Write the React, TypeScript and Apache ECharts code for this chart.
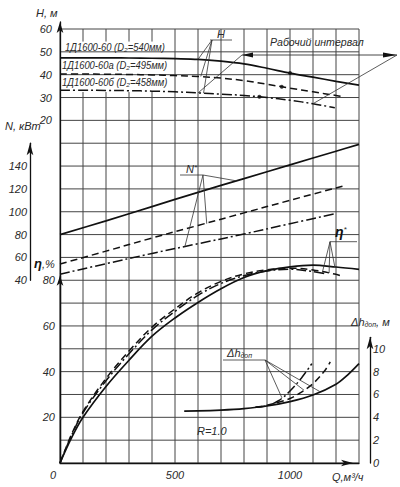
import React, { useEffect, useRef } from 'react';
import * as echarts from 'echarts';

const FONT = "'Liberation Sans', Arial, 'DejaVu Sans', sans-serif";
const INK = '#111';
const TXT = '#2a2a2a';
const GRIDC = '#444';

// ---- data (Q, value) ----
const H1 = [[0, 47.4], [100, 47.4], [200, 47.4], [300, 47.3], [400, 47.2], [500, 47.0], [600, 46.7], [700, 45.9], [800, 44.7], [900, 42.8], [1000, 40.7], [1100, 38.9], [1200, 37.1], [1300, 35.4]];
const H2 = [[0, 40.3], [100, 40.3], [200, 40.2], [300, 40.1], [400, 39.9], [500, 39.6], [600, 39.2], [700, 38.5], [800, 37.4], [900, 35.8], [1000, 34.1], [1100, 32.5], [1200, 30.9], [1230, 30.4]];
const H3 = [[0, 33.2], [100, 33.2], [200, 33.1], [300, 33.0], [400, 32.8], [500, 32.5], [600, 32.0], [700, 31.5], [800, 30.9], [900, 30.0], [1000, 28.8], [1100, 27.3], [1195, 25.5]];
const H_DOTS = [[1000, 40.7], [964, 34.7], [867, 30.3]];

const N1 = [[0, 80], [200, 92], [400, 104.5], [600, 117], [800, 129], [1000, 141], [1200, 153], [1300, 159]];
const N2 = [[0, 54.2], [200, 65.5], [400, 77], [600, 88], [800, 99], [1000, 110], [1230, 122.5]];
const N3 = [[0, 45.3], [200, 54.5], [400, 63.5], [600, 72], [800, 80.5], [1000, 89.5], [1190, 98]];

const ETA1 = [[0, 0], [50, 11], [100, 20], [200, 33.5], [300, 45], [400, 55.5], [500, 63.5], [600, 70.3], [700, 76.3], [800, 81.2], [900, 84.2], [1000, 85.9], [1100, 86.6], [1200, 85.8], [1300, 84.8]];
const ETA2 = [[0, 0], [50, 12.5], [100, 22.5], [200, 37], [300, 49], [400, 59.5], [500, 67.5], [600, 74.5], [700, 79.5], [800, 82.8], [900, 84.6], [1000, 85.3], [1100, 84.5], [1200, 82.6], [1220, 82]];
const ETA3 = [[0, 0], [50, 12], [100, 22], [200, 36], [300, 47.8], [400, 58.3], [500, 66.4], [600, 73.4], [700, 78.6], [800, 82], [900, 84.1], [1000, 84.8], [1100, 83.8], [1160, 82.8]];

const DH1 = [[540, 4.55], [600, 4.56], [700, 4.63], [800, 4.76], [900, 4.99], [1000, 5.37], [1100, 5.95], [1200, 6.9], [1250, 7.7], [1300, 8.7]];
const DH2 = [[850, 4.88], [900, 5.05], [950, 5.32], [1000, 5.65], [1050, 6.2], [1100, 6.95], [1150, 8.05], [1175, 8.85]];
const DH3 = [[850, 4.88], [900, 5.02], [950, 5.45], [1000, 6.3], [1050, 7.45], [1095, 8.7]];

// tick labels / grid lines
const Q_LABELS = [0, 500, 1000];
const Q_GRID = [0, 100, 200, 300, 400, 500, 600, 700, 800, 900, 1000, 1100, 1200, 1300];
const H_GRID = [60, 50, 40, 30, 20, 10, 0, -10, -20, -30, -40, -50, -60, -70, -80, -90, -100, -110, -120, -130];
const H_LABELS = [20, 30, 40, 50, 60];
const N_LABELS = [40, 60, 80, 100, 120, 140];
const ETA_LABELS = [20, 40, 60, 80];
const DH_LABELS = [0, 2, 4, 6, 8, 10];
// vertical grid lines are broken behind the curve-label block (Q, H range)
const LABEL_GAP_Q = [100, 200, 300, 400];
const LABEL_GAP_H = [54.5, 32.4];

// annotation anchors on curves (Q, value)
const H_LEADER_ENDS = [[600, 46.7], [612, 39.2], [624, 31.9]];
const WORK_ENDS = [[600, 32.0], [1100, 27.3]];
const N_LEADER_ENDS = [[768, 127], [638, 89.5], [543, 69.5]];
const ETA_LEADER_ENDS = [[1140, 83.2], [1170, 83.2], [1195, 85.8]];
const DH_LEADER_ENDS = [[965, 5.7], [1061, 6.37], [1130, 6.25]];

const CURVE_LABELS = ['1Д1600-60 (D₂=540мм)', '1Д1600-60а (D₂=495мм)', '1Д1600-60б (D₂=458мм)'];

const labelStyle = { color: TXT, fontSize: 11, fontStyle: 'italic', fontFamily: FONT };

function lineSeries(name: string, data: number[][], yAxisIndex: number, kind: string) {
  return {
    type: 'line', name, data, xAxisIndex: 0, yAxisIndex,
    symbol: 'none', showSymbol: false, smooth: 0.35, silent: true, z: 10,
    lineStyle: {
      color: INK,
      width: kind === 'solid' ? 1.7 : 1.5,
      type: kind === 'solid' ? 'solid' : kind === 'dash' ? [7, 4] : [10, 3, 2, 3],
    },
  };
}

function decoX(gridIndex: number) {
  return { gridIndex, type: 'value', min: 0, max: 1, show: false };
}

export default function App() {
  const ref = useRef<HTMLDivElement>(null);
  useEffect(() => {
    document.body.style.margin = '0';
    const chart = echarts.init(ref.current!, null, { renderer: 'svg' });
    const axisLineArrow = (size: number[]) => ({
      show: true, onZero: false, symbol: ['none', 'arrow'], symbolSize: size,
      lineStyle: { color: INK, width: 1.3 },
    });
    const gridBase = { show: false, backgroundColor: 'transparent', borderWidth: 0 };
    const option: any = {
      animation: false,
      grid: [
        { ...gridBase, left: 60, right: 41, top: 29, bottom: 24 },
        { ...gridBase, left: 60, top: 22, width: 10, height: 7 },
        { ...gridBase, left: 30, top: 143.21, width: 10, height: 137.05 },
        { ...gridBase, left: 60, top: 275.69, width: 10, height: 187.31 },
        { ...gridBase, left: 360, top: 337.37, width: 10, height: 125.63 },
      ],
      xAxis: [
        {
          gridIndex: 0, type: 'value', min: 0, max: 1300, interval: 100, z: 16,
          axisLine: { show: true, onZero: false, symbol: ['none', 'arrow'], symbolSize: [5, 12], symbolOffset: [0, -6], lineStyle: { color: INK, width: 1.3 } },
          axisTick: { show: false },
          splitLine: { show: false },
          axisLabel: {
            ...labelStyle, margin: 6,
            formatter: (v: number) => (Q_LABELS.includes(v) ? (v === 0 ? '{z|0}' : String(v)) : ''),
            rich: { z: { ...labelStyle, padding: [0, 14, 0, 0] } },
          },
        },
        decoX(1), decoX(2), decoX(3), decoX(4),
      ],
      yAxis: [
        {
          gridIndex: 0, type: 'value', min: -130, max: 60, interval: 10, position: 'left', z: 16,
          axisLine: { show: true, onZero: false, lineStyle: { color: INK, width: 1.3 } },
          axisTick: { show: false },
          splitLine: { show: false },
          axisLabel: { ...labelStyle, margin: 8, formatter: (v: number) => (H_LABELS.includes(v) ? String(v) : '') },
        },
        { gridIndex: 0, type: 'value', min: -120, max: 260, show: false },
        { gridIndex: 0, type: 'value', min: 0, max: 190, show: false },
        { gridIndex: 0, type: 'value', min: 0, max: 38, show: false },
        {
          gridIndex: 1, type: 'value', min: 0, max: 1, position: 'left', z: 16,
          axisLine: axisLineArrow([5, 11]), axisTick: { show: false }, axisLabel: { show: false }, splitLine: { show: false },
        },
        {
          gridIndex: 2, type: 'value', min: 40, max: 160, interval: 20, position: 'left', z: 16,
          axisLine: axisLineArrow([5, 12]), axisTick: { show: false }, splitLine: { show: false },
          axisLabel: { ...labelStyle, margin: 3, formatter: (v: number) => (N_LABELS.includes(v) ? String(v) : '') },
        },
        {
          gridIndex: 3, type: 'value', min: 0, max: 82, interval: 20, position: 'left', z: 16,
          axisLine: axisLineArrow([5, 10]), axisTick: { show: false }, splitLine: { show: false },
          axisLabel: { ...labelStyle, margin: 5, formatter: (v: number) => (ETA_LABELS.includes(v) ? String(v) : '') },
        },
        {
          gridIndex: 4, type: 'value', min: 0, max: 11, interval: 2, position: 'right', z: 16,
          axisLine: axisLineArrow([5, 12]), axisTick: { show: false }, splitLine: { show: false },
          axisLabel: { ...labelStyle, margin: 3, formatter: (v: number) => (DH_LABELS.includes(v) ? String(v) : '') },
        },
      ],
      series: [
        lineSeries('H1', H1, 0, 'solid'),
        lineSeries('H2', H2, 0, 'dash'),
        lineSeries('H3', H3, 0, 'dashdot'),
        lineSeries('N1', N1, 1, 'solid'),
        lineSeries('N2', N2, 1, 'dash'),
        lineSeries('N3', N3, 1, 'dashdot'),
        lineSeries('eta1', ETA1, 2, 'solid'),
        lineSeries('eta2', ETA2, 2, 'dash'),
        lineSeries('eta3', ETA3, 2, 'dashdot'),
        lineSeries('dh1', DH1, 3, 'solid'),
        lineSeries('dh2', DH2, 3, 'dash'),
        lineSeries('dh3', DH3, 3, 'dashdot'),
        {
          type: 'scatter', data: H_DOTS, xAxisIndex: 0, yAxisIndex: 0, symbolSize: 4, silent: true, z: 11,
          itemStyle: { color: INK },
        },
      ],
    };
    chart.setOption(option);

    const P = (yi: number, d: number[]) => {
      const r = chart.convertToPixel({ xAxisIndex: 0, yAxisIndex: yi } as any, d) as number[];
      return [r[0], r[1]];
    };
    // linear pixel mapping of the main grid, taken from two interior points of the library's scales
    const o = P(0, [500, 0]);
    const u = P(0, [1000, -50]);
    const kx = (u[0] - o[0]) / 500;
    const ky = (u[1] - o[1]) / -50;
    const X = (q: number) => o[0] + (q - 500) * kx;
    const Y = (h: number) => o[1] + h * ky;

    const ln = (a: number[], b: number[], w = 0.8, color = '#333', z = 20) => ({
      type: 'line', silent: true, z,
      shape: { x1: a[0], y1: a[1], x2: b[0], y2: b[1] },
      style: { stroke: color, lineWidth: w },
    });
    const txt = (x: number, y: number, text: string, size = 11, align = 'left', extra: any = {}) => ({
      type: 'text', x, y, z: 21, silent: true,
      style: {
        text, fontSize: size, fontStyle: 'italic', fontFamily: FONT, fill: TXT,
        textAlign: align, textVerticalAlign: 'middle', ...extra,
      },
    });
    const rich = (size: number) => ({
      a: { fontSize: size, fontStyle: 'italic', fontFamily: FONT, fill: TXT, verticalAlign: 'bottom' },
      b: { fontSize: size + 2, fontStyle: 'italic', fontWeight: 'bold', fontFamily: FONT, fill: INK, verticalAlign: 'bottom' },
      s: { fontSize: 7, fontStyle: 'italic', fontFamily: FONT, fill: TXT, verticalAlign: 'bottom' },
      u: { fontSize: 8, fontStyle: 'italic', fontFamily: FONT, fill: TXT, verticalAlign: 'top' },
    });

    const g: any[] = [];
    const hTop = H_GRID[0];
    const hBot = H_GRID[H_GRID.length - 1];
    const qL = Q_GRID[0];
    const qR = Q_GRID[Q_GRID.length - 1];
    const GW = 1;
    Q_GRID.forEach((q) => {
      const x = X(q);
      if (LABEL_GAP_Q.includes(q)) {
        g.push(ln([x, Y(hTop)], [x, Y(LABEL_GAP_H[0])], GW, GRIDC, 5));
        g.push(ln([x, Y(LABEL_GAP_H[1])], [x, Y(hBot)], GW, GRIDC, 5));
      } else {
        g.push(ln([x, Y(hTop)], [x, Y(hBot)], GW, GRIDC, 5));
      }
    });
    H_GRID.forEach((h) => g.push(ln([X(qL), Y(h)], [X(qR), Y(h)], GW, GRIDC, 5)));

    // curve labels on H chart
    const lblY = [47.5, 65, 82];
    const lblX = [65, 62, 62];
    CURVE_LABELS.forEach((t, i) => {
      const el: any = txt(lblX[i], lblY[i], t, 10.5, 'left');
      el.scaleX = 0.9;
      g.push(el);
    });
    // H leader
    g.push(txt(221, 33.5, 'H', 11, 'center'));
    g.push(ln([210, 40], [232, 40]));
    H_LEADER_ENDS.forEach((e) => g.push(ln([212, 40], P(0, e))));
    // working interval
    const wl = [242, 55];
    const wr = [397, 55];
    g.push(ln(wl, wr, 0.9));
    g.push({ type: 'polygon', z: 20, silent: true, shape: { points: [[wl[0], wl[1]], [wl[0] + 11, wl[1] - 2.5], [wl[0] + 11, wl[1] + 2.5]] }, style: { fill: INK } });
    g.push({ type: 'polygon', z: 20, silent: true, shape: { points: [[wr[0], wr[1]], [wr[0] - 14, wr[1] - 2.5], [wr[0] - 14, wr[1] + 2.5]] }, style: { fill: INK } });
    g.push(ln(wl, P(0, WORK_ENDS[0])));
    g.push(ln(wr, P(0, WORK_ENDS[1])));
    const wt: any = txt(270, 42, 'Рабочий интервал', 11.5);
    wt.scaleX = 0.92;
    g.push(wt);
    // N leader
    g.push(txt(186, 169, '{a|N}{u|*}', 11, 'left', { rich: rich(11) }));
    g.push(ln([180, 175], [203, 175]));
    N_LEADER_ENDS.forEach((e) => g.push(ln([203, 175], P(1, e))));
    // eta leader
    g.push(txt(335, 232, '{b|η}{u|*}', 12, 'left', { rich: rich(12) }));
    g.push(ln([330, 241.7], [357, 241.7]));
    ETA_LEADER_ENDS.forEach((e) => g.push(ln([330, 241.7], P(2, e))));
    // dh leader
    g.push(txt(227, 353, '{a|Δh}{s|доп}', 11, 'left', { rich: rich(11) }));
    g.push(ln([223, 360], [265, 360]));
    DH_LEADER_ENDS.forEach((e) => g.push(ln([265, 360], P(3, e))));
    g.push(txt(197, 431, 'R=1.0', 11));
    // axis names
    g.push(txt(36, 12.5, 'H, м', 11));
    g.push(txt(5, 126, 'N, кВт', 11));
    g.push(txt(34, 263, '{b|η}{a|,%}', 11, 'left', { rich: rich(11) }));
    g.push(txt(351, 322, '{a|Δh}{s|доп}{a|, м}', 11, 'left', { rich: rich(11) }));
    g.push(txt(332, 477, 'Q,м³/ч', 11));

    chart.setOption({ graphic: g });
    return () => chart.dispose();
  }, []);
  return <div ref={ref} style={{ width: 400, height: 487, background: '#fff' }} />;
}
